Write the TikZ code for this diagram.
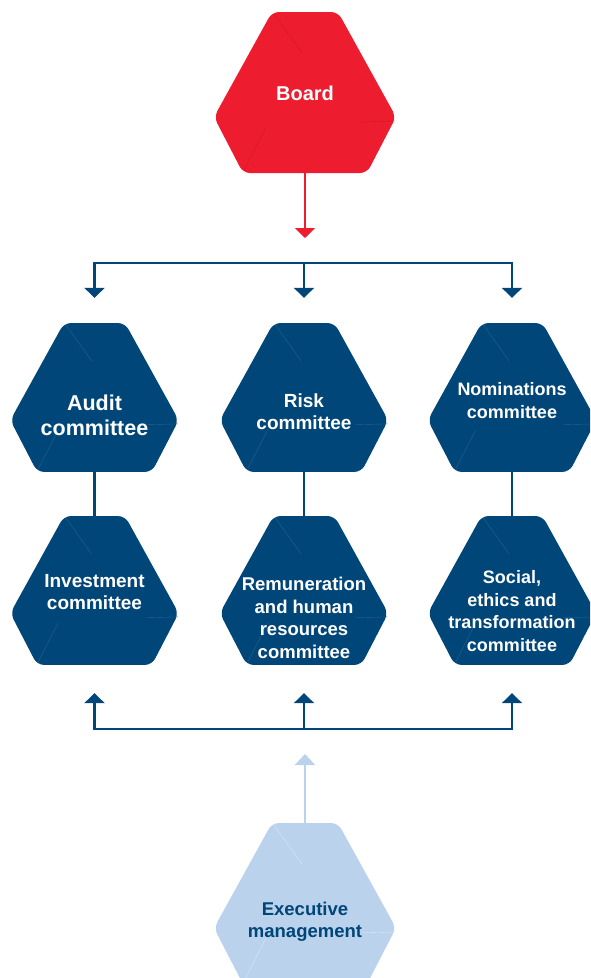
\documentclass[tikz,border=0pt]{standalone}
\usepackage{fontspec}
\setmainfont{Liberation Sans}
\usetikzlibrary{
  arrows.meta
}

\definecolor{boardred}{RGB}{237,28,46}
\definecolor{navy}{RGB}{0,70,120}
\definecolor{paleblue}{RGB}{187,210,237}

\newcommand\hexfont[2]{\fontsize{#1}{#2}\selectfont\bfseries}

\begin{document}
\begin{tikzpicture}[
  x=1pt,
  y=-1pt,
  hexa/.style n args={3}{
    minimum width=182*#1,
    minimum height=161*#1,
    inner sep=0pt,
    path picture={
      \fill[#2, rounded corners=7pt]
        (path picture bounding box.north) ++(-33*#1,0)
        -- ++(66*#1,0) -- ++(58*#1,105*#1) -- ++(-29*#1,56*#1)
        -- ++(-124*#1,0) -- ++(-29*#1,-56*#1) -- cycle;
      \draw[#3, line width=0.4pt]
        (path picture bounding box.north) ++(-31*#1,2*#1) -- ++(28*#1,39*#1)
        (path picture bounding box.north) ++(-61*#1,158*#1) -- ++(22*#1,-43*#1)
        (path picture bounding box.north) ++(90*#1,109*#1) -- ++(-35*#1,1*#1);
    }
  },
  lbl/.style={
    align=center,
    text=white
  },
  busline/.style={
    draw=navy,
    line width=2.2pt
  },
  bluearrow/.style={
    busline,
    -{Triangle[width=20pt,length=10pt]}
  },
  redarrow/.style={
    draw=boardred,
    line width=2.2pt,
    -{Triangle[width=20pt,length=10pt]}
  },
  palearrow/.style={
    draw=paleblue,
    line width=2.2pt,
    -{Triangle[width=20pt,length=11pt]}
  }
]

\clip (0,0) rectangle (590,978);

\node[hexa={1}{boardred}{boardred!88!black},
  label={[lbl,font=\hexfont{20}{24},yshift=-1]center:Board}]
  (board) at (305,92.5) {};

\node[hexa={0.925}{navy}{navy!85!white},
  label={[lbl,font=\hexfont{21.5}{25},yshift=-18]center:{Audit\\committee}}]
  (audit) at (94.5,397.5) {};
\node[hexa={0.925}{navy}{navy!85!white},
  label={[lbl,font=\hexfont{19}{21.5},yshift=-14]center:{Risk\\committee}}]
  (risk) at (304,397.5) {};
\node[hexa={0.925}{navy}{navy!85!white},
  label={[lbl,font=\hexfont{18}{22.3},yshift=-3]center:{Nominations\\committee}}]
  (nom) at (512,397.5) {};

\node[hexa={0.925}{navy}{navy!85!white},
  label={[lbl,font=\hexfont{19}{22.3},yshift=-1.5]center:{Investment\\committee}}]
  (invest) at (94.5,590.5) {};
\node[hexa={0.925}{navy}{navy!85!white},
  label={[lbl,font=\hexfont{18.5}{22.5},yshift=-27.5]center:{Remuneration\\and human\\resources\\committee}}]
  (remun) at (304,590.5) {};
\node[hexa={0.925}{navy}{navy!85!white},
  label={[lbl,font=\hexfont{18}{22.5},yshift=-20.5]center:{Social,\\ethics and\\transformation\\committee}}]
  (social) at (512,590.5) {};

\node[hexa={1}{paleblue}{paleblue!55!white},
  label={[lbl,text=navy,font=\hexfont{18.5}{22.5},yshift=-18]center:{Executive\\management}}]
  (exec) at (305,903.5) {};

\coordinate (topbus) at (305,263);
\coordinate (lowbus) at (305,729);

% board down to the committees
\draw[redarrow, shorten >=25pt] (board.south) -- (topbus);
\draw[busline, line cap=rect] (topbus -| audit) -- (topbus -| nom);
\foreach \n in {audit,risk,nom}
  \draw[bluearrow, shorten >=25pt] (topbus -| \n) -- (\n.north);

\foreach \a/\b in {audit/invest,risk/remun,nom/social}
  \draw[busline] (\a.south) -- (\b.north);

% executive management up to the committees
\draw[busline, line cap=rect] (lowbus -| invest) -- (lowbus -| social);
\foreach \n in {invest,remun,social}
  \draw[bluearrow, shorten >=28pt] (lowbus -| \n) -- (\n.south);
\draw[palearrow, shorten >=25pt] (exec.north) -- (lowbus);

\end{tikzpicture}
\end{document}
